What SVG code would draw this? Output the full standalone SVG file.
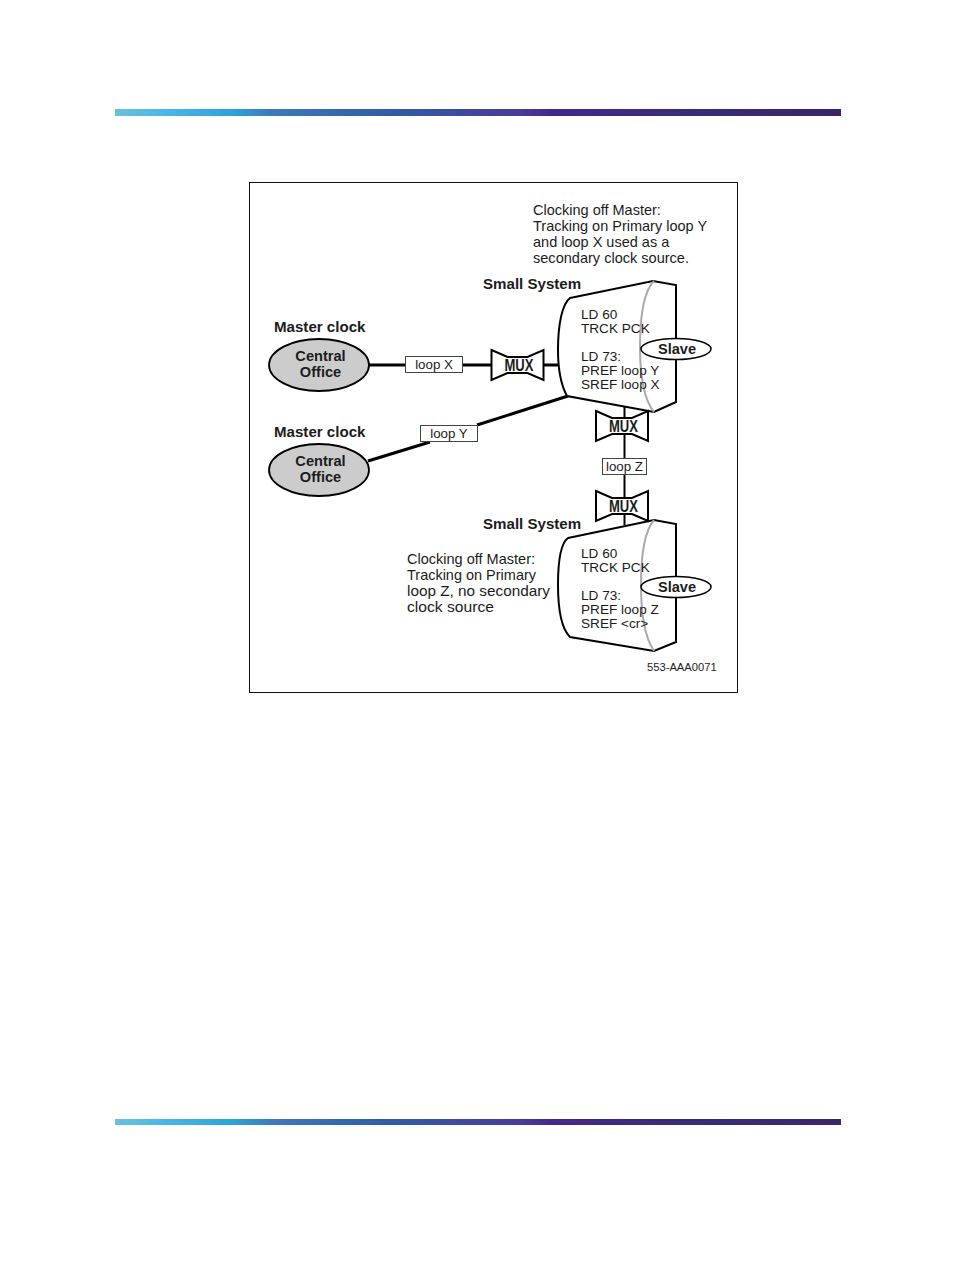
<svg xmlns="http://www.w3.org/2000/svg" width="954" height="1272" viewBox="0 0 954 1272">
<defs>
<linearGradient id="bar" x1="0" y1="0" x2="1" y2="0">
<stop offset="0" stop-color="#6cc0d8"/><stop offset="0.06" stop-color="#4db8e8"/><stop offset="0.16" stop-color="#2ea3d8"/><stop offset="0.22" stop-color="#3d78b8"/><stop offset="0.38" stop-color="#2f5ca4"/><stop offset="0.56" stop-color="#4a3b98"/><stop offset="0.6" stop-color="#43288c"/><stop offset="0.8" stop-color="#3a2a78"/><stop offset="1" stop-color="#3b2569"/>
</linearGradient>
<g id="mux">
<path d="M-26,-15 L-10,-8 L10,-8 L26,-15 L26,15 L10,8 L-10,8 L-26,15 Z" fill="#fff" stroke="#000" stroke-width="2"/>
<text x="1.500" y="6" text-anchor="middle" class="mux" textLength="29" lengthAdjust="spacingAndGlyphs">MUX</text>
</g>
</defs>
<style>
text{font-family:"Liberation Sans",Arial,sans-serif;fill:#1c1c1c}
.t{font-size:14.500px}
.d{font-size:13.600px}
.l{font-size:13.300px}
.b{font-size:15.100px;font-weight:bold}
.c{font-size:14.600px;font-weight:bold;text-anchor:middle}
.mux{font-size:17px;font-weight:bold}
.sys{fill:#fff;stroke:#000;stroke-width:2}
.arc{fill:none;stroke:#aaa;stroke-width:2}
.co{fill:#ccc;stroke:#000;stroke-width:1.800}
.lb{fill:#fff;stroke:#444;stroke-width:1}
.ln{fill:none;stroke:#000}
</style>
<rect width="954" height="1272" fill="#fff"/>
<rect x="115" y="109" width="726" height="7" fill="url(#bar)"/>
<rect x="115" y="1119" width="726" height="6" fill="url(#bar)"/>
<rect x="249.500" y="182.500" width="488" height="510" fill="#fff" stroke="#111" stroke-width="1"/>

<g id="connectors">
<path class="ln" stroke-width="3" d="M369,365 H405 M463,365 H492 M543,365 H560"/>
<path class="ln" stroke-width="3" d="M368,461 L430,442 M477,425 L568,396"/>
<path class="ln" stroke-width="2" d="M624.500,405 V525"/>
</g>

<g id="system-top">
<path class="sys" d="M570,298 L653,281 L676,285 V402 L654,412 L567,396 C561,385 558,368 558,350 C558,325 562,304 570,298 Z"/>
<path class="arc" d="M654,281 Q640,295 640,347 Q640,395 654,412"/>
<text class="d" x="581" y="319">LD 60</text>
<text class="d" x="581" y="333">TRCK PCK</text>
<text class="d" x="581" y="361">LD 73:</text>
<text class="d" x="581" y="375">PREF loop Y</text>
<text class="d" x="581" y="389">SREF loop X</text>
</g>
<g id="slave-top"><ellipse cx="676" cy="349" rx="35" ry="10.500" fill="#fff" stroke="#000" stroke-width="1.500"/><text class="c" x="677" y="354">Slave</text></g>

<g id="system-bottom">
<path class="sys" d="M568,538 L654,520 L676,524 V642 L654,651 L570,637 C561,628 558,608 558,585 C558,560 561,543 568,538 Z"/>
<path class="arc" d="M654,520 Q641,535 641,585 Q641,632 654,651"/>
<text class="d" x="581" y="558">LD 60</text>
<text class="d" x="581" y="572">TRCK PCK</text>
<text class="d" x="581" y="600">LD 73:</text>
<text class="d" x="581" y="614">PREF loop Z</text>
<text class="d" x="581" y="628">SREF &lt;cr&gt;</text>
</g>
<g id="slave-bottom"><ellipse cx="676" cy="587" rx="35" ry="10.500" fill="#fff" stroke="#000" stroke-width="1.500"/><text class="c" x="677" y="592">Slave</text></g>

<g id="co-1"><ellipse cx="319" cy="365" rx="50" ry="26" class="co"/><text class="c" x="320.500" y="361">Central</text><text class="c" x="320.500" y="377">Office</text></g>
<g id="co-2"><ellipse cx="319" cy="470" rx="50" ry="26" class="co"/><text class="c" x="320.500" y="466">Central</text><text class="c" x="320.500" y="482">Office</text></g>

<g id="loop-x"><rect class="lb" x="405.500" y="356.500" width="57" height="16"/><text class="l" x="434" y="369" text-anchor="middle">loop X</text></g>
<g id="loop-y"><rect class="lb" x="420.500" y="425.500" width="57" height="16"/><text class="l" x="449" y="438" text-anchor="middle">loop Y</text></g>
<g id="loop-z"><rect class="lb" x="602.500" y="458.500" width="44" height="16"/><text class="l" x="624.500" y="471" text-anchor="middle">loop Z</text></g>

<g id="mux-1"><use href="#mux" x="517.500" y="365"/></g>
<g id="mux-2"><use href="#mux" x="622" y="426"/></g>
<g id="mux-3"><use href="#mux" x="622" y="506"/></g>

<g id="labels">
<text class="b" x="274" y="332">Master clock</text>
<text class="b" x="274" y="437">Master clock</text>
<text class="b" x="483" y="289">Small System</text>
<text class="b" x="483" y="529">Small System</text>
<text class="t" x="533" y="215">Clocking off Master:</text>
<text class="t" x="533" y="231">Tracking on Primary loop Y</text>
<text class="t" x="533" y="247">and loop X used as a</text>
<text class="t" x="533" y="263" textLength="156" lengthAdjust="spacingAndGlyphs">secondary clock source.</text>
<text class="t" x="407" y="564" textLength="128" lengthAdjust="spacingAndGlyphs">Clocking off Master:</text>
<text class="t" x="407" y="580" textLength="129" lengthAdjust="spacingAndGlyphs">Tracking on Primary</text>
<text class="t" x="407" y="596" textLength="143" lengthAdjust="spacingAndGlyphs">loop Z, no secondary</text>
<text class="t" x="407" y="612" textLength="87" lengthAdjust="spacingAndGlyphs">clock source</text>
<text x="647" y="671" font-size="11.200px">553-AAA0071</text>
</g>
</svg>
